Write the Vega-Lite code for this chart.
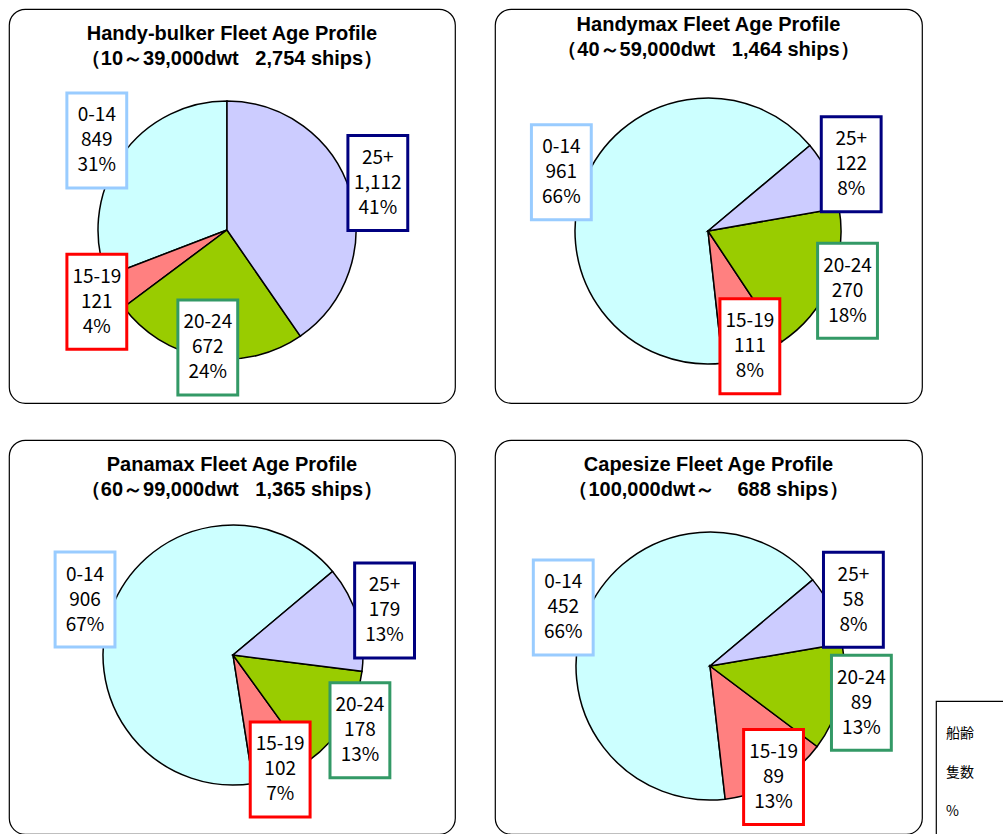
{
  "$schema": "https://vega.github.io/schema/vega-lite/v6.json",
  "background": "white",
  "padding": {"left": 8, "top": 8, "right": 0, "bottom": 0},
  "config": {
    "view": {"stroke": "black", "strokeWidth": 1.2, "cornerRadius": 16},
    "font": "Noto Sans CJK JP"
  },
  "datasets": {
    "fleet": [
      {"cls": "Handy-bulker", "age": "0-14", "ships": 849, "pct": 0.31},
      {"cls": "Handy-bulker", "age": "15-19", "ships": 121, "pct": 0.04},
      {"cls": "Handy-bulker", "age": "20-24", "ships": 672, "pct": 0.24},
      {"cls": "Handy-bulker", "age": "25+", "ships": 1112, "pct": 0.41},
      {"cls": "Handymax", "age": "0-14", "ships": 961, "pct": 0.66},
      {"cls": "Handymax", "age": "15-19", "ships": 111, "pct": 0.08},
      {"cls": "Handymax", "age": "20-24", "ships": 270, "pct": 0.18},
      {"cls": "Handymax", "age": "25+", "ships": 122, "pct": 0.08},
      {"cls": "Panamax", "age": "0-14", "ships": 906, "pct": 0.67},
      {"cls": "Panamax", "age": "15-19", "ships": 102, "pct": 0.07},
      {"cls": "Panamax", "age": "20-24", "ships": 178, "pct": 0.13},
      {"cls": "Panamax", "age": "25+", "ships": 179, "pct": 0.13},
      {"cls": "Capesize", "age": "0-14", "ships": 452, "pct": 0.66},
      {"cls": "Capesize", "age": "15-19", "ships": 89, "pct": 0.13},
      {"cls": "Capesize", "age": "20-24", "ships": 89, "pct": 0.13},
      {"cls": "Capesize", "age": "25+", "ships": 58, "pct": 0.08}
    ]
  },
  "spacing": 35,
  "vconcat": [
    {
      "spacing": 38,
      "hconcat": [
        {
          "width": 446, "height": 394,
          "title": {"text": ["Handy-bulker Fleet Age Profile", "（10～39,000dwt\u00a0\u00a0\u00a02,754 ships）"], "font": "Liberation Sans", "fontSize": 20, "fontWeight": "bold", "color": "black", "anchor": "middle", "frame": "group", "baseline": "top", "offset": -60, "lineHeight": 25},
          "data": {"name": "fleet"},
          "transform": [{"filter": "datum.cls === 'Handy-bulker'"}],
          "layer": [
            {
              "mark": {"type": "arc", "outerRadius": 129, "stroke": "black", "strokeWidth": 1.5},
              "encoding": {
                "theta": {"field": "ships", "type": "quantitative", "stack": true, "scale": {"range": [0, 6.2832]}},
                "order": {"field": "age", "type": "ordinal", "sort": "descending"},
                "color": {"field": "age", "type": "nominal", "scale": {"domain": ["0-14", "15-19", "20-24", "25+"], "range": ["#CCFFFF", "#FF8080", "#99CC00", "#CCCCFF"]}, "legend": null},
                "x": {"datum": 0, "type": "quantitative", "scale": {"domain": [-218, 228], "nice": false, "zero": false}, "axis": null},
                "y": {"datum": 0, "type": "quantitative", "scale": {"domain": [-173, 221], "nice": false, "zero": false}, "axis": null}
              }
            },
            {
              "transform": [
                {"joinaggregate": [{"op": "sum", "field": "ships", "as": "total"}]},
                {"window": [{"op": "sum", "field": "ships", "as": "cum"}], "sort": [{"field": "age", "order": "descending"}], "frame": [null, 0]},
                {"calculate": "0 + 2*PI*(datum.cum - datum.ships/2)/datum.total", "as": "mid"},
                {"calculate": "158 - 40*pow(max(0, -cos(datum.mid)), 2)", "as": "r"},
                {"calculate": "datum.r*sin(datum.mid)", "as": "bx"},
                {"calculate": "datum.r*cos(datum.mid)", "as": "by"}
              ],
              "encoding": {
                "x": {"field": "bx", "type": "quantitative", "scale": {"domain": [-218, 228], "nice": false, "zero": false}, "axis": null},
                "y": {"field": "by", "type": "quantitative", "scale": {"domain": [-173, 221], "nice": false, "zero": false}, "axis": null}
              },
              "layer": [
                {"mark": {"type": "point", "shape": "M-0.63,-1H0.63V1H-0.63Z", "size": 9025, "filled": true, "fill": "white", "strokeWidth": 3, "opacity": 1},
                 "encoding": {"stroke": {"field": "age", "type": "nominal", "scale": {"domain": ["0-14", "15-19", "20-24", "25+"], "range": ["#99CCFF", "#FF0000", "#339966", "#000080"]}, "legend": null}}},
                {"mark": {"type": "text", "dy": -25, "fontSize": 19, "font": "Noto Sans CJK JP", "color": "black"}, "encoding": {"text": {"field": "age", "type": "nominal"}}},
                {"mark": {"type": "text", "dy": 0, "fontSize": 19, "font": "Noto Sans CJK JP", "color": "black"}, "encoding": {"text": {"field": "ships", "type": "quantitative", "format": ","}}},
                {"mark": {"type": "text", "dy": 25, "fontSize": 19, "font": "Noto Sans CJK JP", "color": "black"}, "encoding": {"text": {"field": "pct", "type": "quantitative", "format": ".0%"}}}
              ]
            }
          ]
        },
        {
          "width": 427, "height": 394,
          "title": {"text": ["Handymax Fleet Age Profile", "（40～59,000dwt\u00a0\u00a0\u00a01,464 ships）"], "font": "Liberation Sans", "fontSize": 20, "fontWeight": "bold", "color": "black", "anchor": "middle", "frame": "group", "baseline": "top", "offset": -51, "lineHeight": 25},
          "data": {"name": "fleet"},
          "transform": [{"filter": "datum.cls === 'Handymax'"}],
          "layer": [
            {
              "mark": {"type": "arc", "outerRadius": 133, "stroke": "black", "strokeWidth": 1.5},
              "encoding": {
                "theta": {"field": "ships", "type": "quantitative", "stack": true, "scale": {"range": [0.8727, 7.1559]}},
                "order": {"field": "age", "type": "ordinal", "sort": "descending"},
                "color": {"field": "age", "type": "nominal", "scale": {"domain": ["0-14", "15-19", "20-24", "25+"], "range": ["#CCFFFF", "#FF8080", "#99CC00", "#CCCCFF"]}, "legend": null},
                "x": {"datum": 0, "type": "quantitative", "scale": {"domain": [-213, 214], "nice": false, "zero": false}, "axis": null},
                "y": {"datum": 0, "type": "quantitative", "scale": {"domain": [-172, 222], "nice": false, "zero": false}, "axis": null}
              }
            },
            {
              "transform": [
                {"joinaggregate": [{"op": "sum", "field": "ships", "as": "total"}]},
                {"window": [{"op": "sum", "field": "ships", "as": "cum"}], "sort": [{"field": "age", "order": "descending"}], "frame": [null, 0]},
                {"calculate": "0.8727 + 2*PI*(datum.cum - datum.ships/2)/datum.total", "as": "mid"},
                {"calculate": "158 - 40*pow(max(0, -cos(datum.mid)), 2)", "as": "r"},
                {"calculate": "datum.r*sin(datum.mid)", "as": "bx"},
                {"calculate": "datum.r*cos(datum.mid)", "as": "by"}
              ],
              "encoding": {
                "x": {"field": "bx", "type": "quantitative", "scale": {"domain": [-213, 214], "nice": false, "zero": false}, "axis": null},
                "y": {"field": "by", "type": "quantitative", "scale": {"domain": [-172, 222], "nice": false, "zero": false}, "axis": null}
              },
              "layer": [
                {"mark": {"type": "point", "shape": "M-0.63,-1H0.63V1H-0.63Z", "size": 9025, "filled": true, "fill": "white", "strokeWidth": 3, "opacity": 1},
                 "encoding": {"stroke": {"field": "age", "type": "nominal", "scale": {"domain": ["0-14", "15-19", "20-24", "25+"], "range": ["#99CCFF", "#FF0000", "#339966", "#000080"]}, "legend": null}}},
                {"mark": {"type": "text", "dy": -25, "fontSize": 19, "font": "Noto Sans CJK JP", "color": "black"}, "encoding": {"text": {"field": "age", "type": "nominal"}}},
                {"mark": {"type": "text", "dy": 0, "fontSize": 19, "font": "Noto Sans CJK JP", "color": "black"}, "encoding": {"text": {"field": "ships", "type": "quantitative", "format": ","}}},
                {"mark": {"type": "text", "dy": 25, "fontSize": 19, "font": "Noto Sans CJK JP", "color": "black"}, "encoding": {"text": {"field": "pct", "type": "quantitative", "format": ".0%"}}}
              ]
            }
          ]
        }
      ]
    },
    {
      "spacing": 38,
      "hconcat": [
        {
          "width": 446, "height": 394,
          "title": {"text": ["Panamax Fleet Age Profile", "（60～99,000dwt\u00a0\u00a0\u00a01,365 ships）"], "font": "Liberation Sans", "fontSize": 20, "fontWeight": "bold", "color": "black", "anchor": "middle", "frame": "group", "baseline": "top", "offset": -60, "lineHeight": 25},
          "data": {"name": "fleet"},
          "transform": [{"filter": "datum.cls === 'Panamax'"}],
          "layer": [
            {
              "mark": {"type": "arc", "outerRadius": 130, "stroke": "black", "strokeWidth": 1.5},
              "encoding": {
                "theta": {"field": "ships", "type": "quantitative", "stack": true, "scale": {"range": [0.8727, 7.1559]}},
                "order": {"field": "age", "type": "ordinal", "sort": "descending"},
                "color": {"field": "age", "type": "nominal", "scale": {"domain": ["0-14", "15-19", "20-24", "25+"], "range": ["#CCFFFF", "#FF8080", "#99CC00", "#CCCCFF"]}, "legend": null},
                "x": {"datum": 0, "type": "quantitative", "scale": {"domain": [-224, 222], "nice": false, "zero": false}, "axis": null},
                "y": {"datum": 0, "type": "quantitative", "scale": {"domain": [-179, 215], "nice": false, "zero": false}, "axis": null}
              }
            },
            {
              "transform": [
                {"joinaggregate": [{"op": "sum", "field": "ships", "as": "total"}]},
                {"window": [{"op": "sum", "field": "ships", "as": "cum"}], "sort": [{"field": "age", "order": "descending"}], "frame": [null, 0]},
                {"calculate": "0.8727 + 2*PI*(datum.cum - datum.ships/2)/datum.total", "as": "mid"},
                {"calculate": "158 - 40*pow(max(0, -cos(datum.mid)), 2)", "as": "r"},
                {"calculate": "datum.r*sin(datum.mid)", "as": "bx"},
                {"calculate": "datum.r*cos(datum.mid)", "as": "by"}
              ],
              "encoding": {
                "x": {"field": "bx", "type": "quantitative", "scale": {"domain": [-224, 222], "nice": false, "zero": false}, "axis": null},
                "y": {"field": "by", "type": "quantitative", "scale": {"domain": [-179, 215], "nice": false, "zero": false}, "axis": null}
              },
              "layer": [
                {"mark": {"type": "point", "shape": "M-0.63,-1H0.63V1H-0.63Z", "size": 9025, "filled": true, "fill": "white", "strokeWidth": 3, "opacity": 1},
                 "encoding": {"stroke": {"field": "age", "type": "nominal", "scale": {"domain": ["0-14", "15-19", "20-24", "25+"], "range": ["#99CCFF", "#FF0000", "#339966", "#000080"]}, "legend": null}}},
                {"mark": {"type": "text", "dy": -25, "fontSize": 19, "font": "Noto Sans CJK JP", "color": "black"}, "encoding": {"text": {"field": "age", "type": "nominal"}}},
                {"mark": {"type": "text", "dy": 0, "fontSize": 19, "font": "Noto Sans CJK JP", "color": "black"}, "encoding": {"text": {"field": "ships", "type": "quantitative", "format": ","}}},
                {"mark": {"type": "text", "dy": 25, "fontSize": 19, "font": "Noto Sans CJK JP", "color": "black"}, "encoding": {"text": {"field": "pct", "type": "quantitative", "format": ".0%"}}}
              ]
            }
          ]
        },
        {
          "spacing": 12,
          "hconcat": [
            {
              "width": 427, "height": 394,
              "title": {"text": ["Capesize Fleet Age Profile", "（100,000dwt～\u00a0\u00a0\u00a0\u00a0688 ships）"], "font": "Liberation Sans", "fontSize": 20, "fontWeight": "bold", "color": "black", "anchor": "middle", "frame": "group", "baseline": "top", "offset": -60, "lineHeight": 25},
              "data": {"name": "fleet"},
              "transform": [{"filter": "datum.cls === 'Capesize'"}],
              "layer": [
                {
                  "mark": {"type": "arc", "outerRadius": 134, "stroke": "black", "strokeWidth": 1.5},
                  "encoding": {
                    "theta": {"field": "ships", "type": "quantitative", "stack": true, "scale": {"range": [0.8727, 7.1559]}},
                    "order": {"field": "age", "type": "ordinal", "sort": "descending"},
                    "color": {"field": "age", "type": "nominal", "scale": {"domain": ["0-14", "15-19", "20-24", "25+"], "range": ["#CCFFFF", "#FF8080", "#99CC00", "#CCCCFF"]}, "legend": null},
                    "x": {"datum": 0, "type": "quantitative", "scale": {"domain": [-215, 212], "nice": false, "zero": false}, "axis": null},
                    "y": {"datum": 0, "type": "quantitative", "scale": {"domain": [-168, 226], "nice": false, "zero": false}, "axis": null}
                  }
                },
                {
                  "transform": [
                    {"joinaggregate": [{"op": "sum", "field": "ships", "as": "total"}]},
                    {"window": [{"op": "sum", "field": "ships", "as": "cum"}], "sort": [{"field": "age", "order": "descending"}], "frame": [null, 0]},
                    {"calculate": "0.8727 + 2*PI*(datum.cum - datum.ships/2)/datum.total", "as": "mid"},
                    {"calculate": "158 - 40*pow(max(0, -cos(datum.mid)), 2)", "as": "r"},
                    {"calculate": "datum.r*sin(datum.mid)", "as": "bx"},
                    {"calculate": "datum.r*cos(datum.mid)", "as": "by"}
                  ],
                  "encoding": {
                    "x": {"field": "bx", "type": "quantitative", "scale": {"domain": [-215, 212], "nice": false, "zero": false}, "axis": null},
                    "y": {"field": "by", "type": "quantitative", "scale": {"domain": [-168, 226], "nice": false, "zero": false}, "axis": null}
                  },
                  "layer": [
                    {"mark": {"type": "point", "shape": "M-0.63,-1H0.63V1H-0.63Z", "size": 9025, "filled": true, "fill": "white", "strokeWidth": 3, "opacity": 1},
                     "encoding": {"stroke": {"field": "age", "type": "nominal", "scale": {"domain": ["0-14", "15-19", "20-24", "25+"], "range": ["#99CCFF", "#FF0000", "#339966", "#000080"]}, "legend": null}}},
                    {"mark": {"type": "text", "dy": -25, "fontSize": 19, "font": "Noto Sans CJK JP", "color": "black"}, "encoding": {"text": {"field": "age", "type": "nominal"}}},
                    {"mark": {"type": "text", "dy": 0, "fontSize": 19, "font": "Noto Sans CJK JP", "color": "black"}, "encoding": {"text": {"field": "ships", "type": "quantitative", "format": ","}}},
                    {"mark": {"type": "text", "dy": 25, "fontSize": 19, "font": "Noto Sans CJK JP", "color": "black"}, "encoding": {"text": {"field": "pct", "type": "quantitative", "format": ".0%"}}}
                  ]
                }
              ]
            },
            {
              "spacing": 20,
              "vconcat": [
                {
                  "width": 100, "height": 240,
                  "view": {"stroke": null},
                  "data": {"values": []},
                  "mark": "text",
                  "encoding": {}
                },
                {
                  "width": 100, "height": 144,
                  "view": {"stroke": "black", "cornerRadius": 0},
                  "data": {"values": [{"item": "船齢"}, {"item": "隻数"}, {"item": "%"}]},
                  "mark": {"type": "text", "align": "left", "dx": -40, "font": "Noto Sans CJK JP", "fontSize": 14, "color": "black"},
                  "encoding": {
                    "y": {"field": "item", "type": "nominal", "sort": null, "scale": {"type": "point", "padding": 0.85}, "axis": null},
                    "text": {"field": "item", "type": "nominal"}
                  }
                }
              ]
            }
          ]
        }
      ]
    }
  ]
}
